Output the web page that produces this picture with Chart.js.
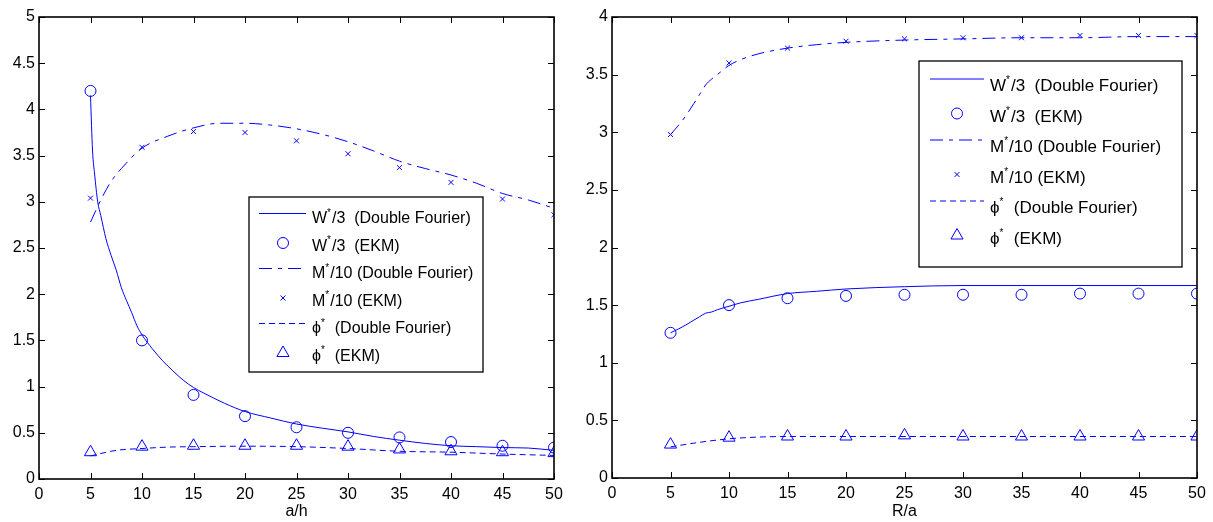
<!DOCTYPE html>
<html>
<head>
<meta charset="utf-8">
<script src="https://cdn.jsdelivr.net/npm/chart.js@4.4.1/dist/chart.umd.min.js"></script>
<style>
    html, body { margin: 0; padding: 0; background: #fff; }
    #wrap { position: relative; width: 1213px; height: 522px; }
    #leftBox { position: absolute; left: 0; top: 0; width: 580px; height: 522px; }
    #rightBox { position: absolute; left: 580px; top: 0; width: 633px; height: 522px; }
</style>
</head>
<body>
<div id="wrap">
    <div id="leftBox"><canvas id="leftChart" width="580" height="522"></canvas></div>
    <div id="rightBox"><canvas id="rightChart" width="633" height="522"></canvas></div>
</div>
<script>
(function(){
    'use strict';

    // a/h panel, EKM points
    const ahEkm = [5, 10, 15, 20, 25, 30, 35, 40, 45, 50];
    const wEkmA = [4.2, 1.5, 0.91, 0.68, 0.56, 0.5, 0.45, 0.4, 0.36, 0.34];
    const mEkmA = [3.04, 3.59, 3.76, 3.75, 3.66, 3.52, 3.37, 3.21, 3.03, 2.86];
    const phiEkmA = [0.29, 0.35, 0.36, 0.36, 0.36, 0.35, 0.32, 0.3, 0.29, 0.28];

    // a/h panel, Double Fourier curves
    const wDfAx = [5, 5.2, 5.4, 5.7, 6, 6.5, 7, 7.5, 8, 8.5, 9, 9.5, 10, 11, 12, 13, 14, 15, 16, 18, 20, 22.5, 25, 27.5, 30, 32.5, 35, 37.5, 40, 42.5, 45, 47.5, 50];
    const wDfA = [4.15, 3.55, 3.3, 3.0, 2.85, 2.6, 2.42, 2.26, 2.07, 1.93, 1.8, 1.66, 1.56, 1.41, 1.28, 1.17, 1.07, 0.99, 0.93, 0.82, 0.73, 0.66, 0.595, 0.55, 0.51, 0.46, 0.42, 0.385, 0.36, 0.35, 0.34, 0.335, 0.31];
    const mDfAx = [5, 6, 7, 8, 10, 12.5, 15, 17.5, 20, 22.5, 25, 27.5, 30, 32.5, 35, 37.5, 40, 42.5, 45, 47.5, 50];
    const mDfA = [2.78, 3.02, 3.22, 3.36, 3.58, 3.71, 3.8, 3.85, 3.85, 3.83, 3.79, 3.73, 3.65, 3.55, 3.44, 3.36, 3.29, 3.2, 3.09, 3.02, 2.93];
    const phiDfAx = [5, 7.5, 10, 12.5, 15, 20, 25, 30, 35, 40, 45, 50];
    const phiDfA = [0.25, 0.31, 0.33, 0.345, 0.35, 0.355, 0.35, 0.33, 0.3, 0.29, 0.27, 0.255];

    // R/a panel, EKM points
    const raEkm = [5, 10, 15, 20, 25, 30, 35, 40, 45, 50];
    const wEkmR = [1.26, 1.5, 1.56, 1.58, 1.59, 1.59, 1.59, 1.6, 1.6, 1.6];
    const mEkmR = [2.98, 3.6, 3.73, 3.79, 3.81, 3.82, 3.82, 3.84, 3.84, 3.84];
    const phiEkmR = [0.29, 0.35, 0.36, 0.36, 0.37, 0.36, 0.36, 0.36, 0.36, 0.36];

    // R/a panel, Double Fourier curves
    const dfRx = [5, 6, 7, 7.5, 8, 8.5, 9, 10, 11, 12.5, 15, 17.5, 20, 25, 30, 35, 40, 45, 50];
    const wDfR = [1.26, 1.31, 1.37, 1.4, 1.43, 1.44, 1.46, 1.49, 1.52, 1.55, 1.6, 1.62, 1.64, 1.66, 1.67, 1.67, 1.67, 1.67, 1.67];
    const mDfR = [2.98, 3.1, 3.25, 3.33, 3.41, 3.46, 3.5, 3.58, 3.63, 3.68, 3.73, 3.76, 3.78, 3.8, 3.81, 3.82, 3.82, 3.83, 3.83];
    const phiDfRx = [5, 7.5, 10, 12.5, 15, 20, 30, 40, 50];
    const phiDfR = [0.27, 0.31, 0.34, 0.355, 0.36, 0.36, 0.36, 0.36, 0.36];

    // legend text: base, superscript, rest
    const legendLabels = [
        ['W', '*', '/3  (Double Fourier)'],
        ['W', '*', '/3  (EKM)'],
        ['M', '*', '/10 (Double Fourier)'],
        ['M', '*', '/10 (EKM)'],
        ['\u03d5', '*', '  (Double Fourier)'],
        ['\u03d5', '*', '  (EKM)']
    ];

    const BLUE = '#0000ff';
    const FONT = '"Liberation Sans", Arial, sans-serif';

    function pairs(xs, ys){
        return xs.map(function(x, i){ return {x: x, y: ys[i]}; });
    }

    function curve(xs, ys, dash){
        return {
            data: pairs(xs, ys),
            showLine: true,
            borderColor: BLUE,
            borderWidth: 1,
            borderDash: dash,
            pointRadius: 0,
            pointHoverRadius: 0,
            cubicInterpolationMode: 'monotone',
            fill: false
        };
    }

    function marks(xs, ys, style, r){
        return {
            data: pairs(xs, ys),
            showLine: false,
            pointStyle: style,
            pointRadius: r,
            pointHoverRadius: r,
            borderColor: BLUE,
            backgroundColor: 'rgba(0,0,0,0)',
            pointBorderWidth: 1
        };
    }

    function drawMarker(ctx, style, r, x, y){
        ctx.beginPath();
        if (style === 'circle'){
            ctx.arc(x, y, r, 0, Math.PI * 2);
        } else if (style === 'crossRot'){
            const d = r * Math.SQRT1_2;
            ctx.moveTo(x - d, y - d); ctx.lineTo(x + d, y + d);
            ctx.moveTo(x + d, y - d); ctx.lineTo(x - d, y + d);
        } else if (style === 'triangle'){
            ctx.moveTo(x, y - r);
            ctx.lineTo(x + r * 0.866, y + r * 0.5);
            ctx.lineTo(x - r * 0.866, y + r * 0.5);
            ctx.closePath();
        }
        ctx.stroke();
    }

    // box, inward ticks on all four sides
    const framePlugin = {
        id: 'frame',
        afterDraw: function(chart){
            const a = chart.chartArea;
            const ctx = chart.ctx;
            const xs = chart.scales.x;
            const ys = chart.scales.y;
            ctx.save();
            ctx.strokeStyle = '#000';
            ctx.lineWidth = 1;
            ctx.setLineDash([]);
            ctx.beginPath();
            xs.ticks.forEach(function(t){
                const px = Math.round(xs.getPixelForValue(t.value)) + 0.5;
                ctx.moveTo(px, a.bottom); ctx.lineTo(px, a.bottom - 6);
                ctx.moveTo(px, a.top); ctx.lineTo(px, a.top + 6);
            });
            ys.ticks.forEach(function(t){
                const py = Math.round(ys.getPixelForValue(t.value)) + 0.5;
                ctx.moveTo(a.left, py); ctx.lineTo(a.left + 6, py);
                ctx.moveTo(a.right, py); ctx.lineTo(a.right - 6, py);
            });
            ctx.stroke();
            ctx.lineWidth = 1.6;
            ctx.strokeRect(a.left, a.top, a.right - a.left, a.bottom - a.top);
            ctx.restore();
        }
    };

    // boxed legend with superscripts
    const boxLegendPlugin = {
        id: 'boxLegend',
        afterDraw: function(chart, args, o){
            const ctx = chart.ctx;
            ctx.save();
            ctx.fillStyle = '#fff';
            ctx.fillRect(o.x, o.y, o.w, o.h);
            ctx.strokeStyle = '#000';
            ctx.lineWidth = 1.3;
            ctx.strokeRect(o.x, o.y, o.w, o.h);

            chart.data.datasets.forEach(function(ds, i){
                const ty = o.rowY + i * o.rowStep;
                ctx.strokeStyle = BLUE;
                ctx.lineWidth = 1;
                if (ds.showLine){
                    ctx.setLineDash(ds.borderDash || []);
                    ctx.beginPath();
                    ctx.moveTo(o.lineX0, ty - o.lineLift);
                    ctx.lineTo(o.lineX1, ty - o.lineLift);
                    ctx.stroke();
                    ctx.setLineDash([]);
                } else {
                    drawMarker(ctx, ds.pointStyle, ds.pointRadius, o.markX, ty - 2);
                }

                const parts = legendLabels[i];
                const base = ty + o.size * 0.36;
                let x = o.textX;
                ctx.fillStyle = '#000';
                ctx.textBaseline = 'alphabetic';
                ctx.font = o.size + 'px ' + FONT;
                ctx.fillText(parts[0], x, base);
                x += ctx.measureText(parts[0]).width;
                ctx.font = Math.round(o.size * 0.6) + 'px ' + FONT;
                ctx.fillText(parts[1], x, ty - 2);
                x += ctx.measureText(parts[1]).width + 1;
                ctx.font = o.size + 'px ' + FONT;
                ctx.fillText(parts[2], x, base);
            });
            ctx.restore();
        }
    };

    function axes(yMax, xTitle, yWidth, xHeight){
        return {
            x: {
                type: 'linear', min: 0, max: 50,
                ticks: { stepSize: 5, color: '#000', font: { family: FONT, size: 16 }, padding: 6, maxRotation: 0, autoSkip: false },
                grid: { display: false, drawTicks: false },
                border: { display: false },
                title: { display: true, text: xTitle, color: '#000', font: { family: FONT, size: 16 }, padding: { top: 0, bottom: 1 } },
                afterFit: function(s){ s.height = xHeight; }
            },
            y: {
                type: 'linear', min: 0, max: yMax,
                ticks: {
                    stepSize: 0.5, color: '#000', font: { family: FONT, size: 16 }, padding: 4,
                    callback: function(v){ return String(+v.toFixed(2)); }
                },
                grid: { display: false, drawTicks: false },
                border: { display: false },
                afterFit: function(s){ s.width = yWidth; }
            }
        };
    }

    function panelDatasets(wx, w, mx, m, px, p, ex, we, me, pe){
        return [
            curve(wx, w, []),
            marks(ex, we, 'circle', 5.5),
            curve(mx, m, [13, 6, 4, 6]),
            marks(ex, me, 'crossRot', 3.5),
            curve(px, p, [6, 4]),
            marks(ex, pe, 'triangle', 7)
        ];
    }

    //leftPanel
    new Chart(document.querySelector('#leftChart'), {
        type: 'scatter',
        data: { datasets: panelDatasets(wDfAx, wDfA, mDfAx, mDfA, phiDfAx, phiDfA, ahEkm, wEkmA, mEkmA, phiEkmA) },
        options: {
            responsive: false,
            animation: false,
            layout: { padding: { left: 0, top: 17, right: 26, bottom: 0 } },
            scales: axes(5, 'a/h', 39, 43),
            plugins: {
                legend: { display: false },
                tooltip: { enabled: false },
                boxLegend: { x: 249, y: 197, w: 234, h: 175, rowY: 217.5, rowStep: 27.5, lineX0: 259, lineX1: 306, lineLift: 4, markX: 283, textX: 312, size: 16 }
            }
        },
        plugins: [framePlugin, boxLegendPlugin]
    });

    //rightPanel
    new Chart(document.querySelector('#rightChart'), {
        type: 'scatter',
        data: { datasets: panelDatasets(dfRx, wDfR, dfRx, mDfR, phiDfRx, phiDfR, raEkm, wEkmR, mEkmR, phiEkmR) },
        options: {
            responsive: false,
            animation: false,
            layout: { padding: { left: 0, top: 17, right: 16, bottom: 0 } },
            scales: axes(4, 'R/a', 32, 44),
            plugins: {
                legend: { display: false },
                tooltip: { enabled: false },
                boxLegend: { x: 339, y: 61, w: 263, h: 206, rowY: 85, rowStep: 30.5, lineX0: 350, lineX1: 404, lineLift: 6, markX: 377, textX: 410, size: 17 }
            }
        },
        plugins: [framePlugin, boxLegendPlugin]
    });
})();
</script>
</body>
</html>
